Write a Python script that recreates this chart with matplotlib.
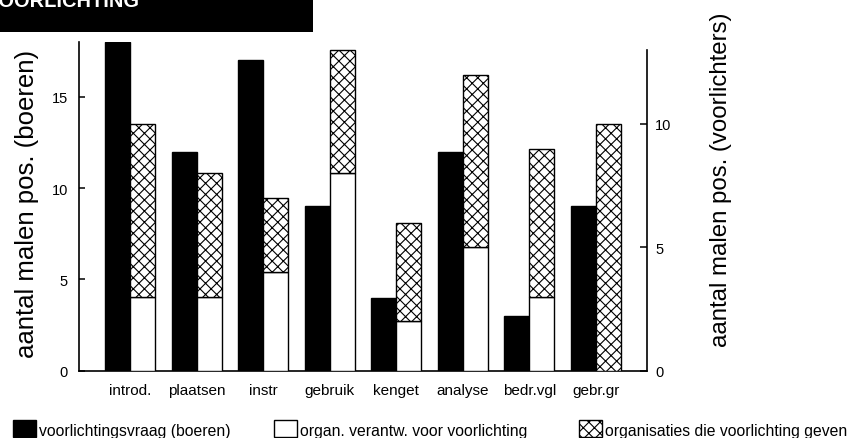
import numpy as np
import matplotlib
matplotlib.use("Agg")
import matplotlib.pyplot as plt
from matplotlib.patches import Rectangle

plt.rcParams['font.family'] = ['Liberation Sans', 'DejaVu Sans']
plt.rcParams['hatch.color'] = 'black'
plt.rcParams['hatch.linewidth'] = 0.8

# data
categories = ['introd.', 'plaatsen', 'instr', 'gebruik', 'kenget', 'analyse', 'bedr.vgl', 'gebr.gr']
boeren = [18, 12, 17, 9, 4, 12, 3, 9]          # left axis
organ_verantw = [3, 3, 4, 8, 2, 5, 3, 0]       # right axis, lower segment
org_geven = [7, 5, 3, 5, 4, 7, 6, 10]          # right axis, upper (hatched) segment

legend_labels = ['voorlichtingsvraag (boeren)',
                 'organ. verantw. voor voorlichting',
                 'organisaties die voorlichting geven']

W, H = 852, 439
fig = plt.figure(figsize=(W / 100, H / 100), dpi=100)

def fx(px):
    return px / W

def fy(py):
    return 1 - py / H

ax = fig.add_axes([fx(79), fy(371.7), fx(647) - fx(79), fy(43) - fy(371.7)])
ax2 = ax.twinx()

x = np.arange(len(categories))
w = 0.375
ax.bar(x - w / 2, boeren, w, color='black', edgecolor='black', linewidth=1.0)
ax2.bar(x + w / 2, organ_verantw, w, facecolor='white', edgecolor='black', linewidth=1.0)
ax2.bar(x + w / 2, org_geven, w, bottom=organ_verantw, facecolor='white',
        edgecolor='black', linewidth=1.0, hatch='xxx')

ax.set_xlim(-0.77, 7.77)
ax.set_ylim(0, 18)
ax2.set_ylim(0, 13.32)

ax.set_yticks([0, 5, 10, 15])
ax2.set_yticks([0, 5, 10])
ax.set_xticks(x)
ax.set_xticklabels(categories, fontsize=11)

ax.tick_params(axis='y', direction='in', length=4, width=1.1, labelsize=10.5, pad=8)
ax2.tick_params(axis='y', direction='in', length=5, width=1.1, labelsize=10.5, pad=6)
ax.tick_params(axis='x', length=0, pad=9)

for a in (ax, ax2):
    a.spines['top'].set_visible(False)
    for s in a.spines.values():
        s.set_linewidth(1.2)
ax.spines['right'].set_visible(False)
ax2.spines['left'].set_visible(False)
ax2.spines['bottom'].set_visible(False)
ax2.spines['right'].set_bounds(0, 13)

fig.text(fx(27), fy(204), 'aantal malen pos. (boeren)', rotation=90,
         ha='center', va='center', fontsize=18.5)
fig.text(fx(721), fy(180), 'aantal malen pos. (voorlichters)', rotation=90,
         ha='center', va='center', fontsize=17.3)

# black title strip at top, text runs off the top edge as in the scan
fig.patches.append(Rectangle((0, fy(33)), fx(313), 33 / H, transform=fig.transFigure,
                             facecolor='black', edgecolor='none'))
fig.text(fx(140), fy(7), 'VOORLICHTING', color='white', fontweight='bold',
         fontsize=14.4, ha='right', va='baseline')

# hand-made legend along the bottom
boxes = [(13, 'black', None), (274, 'white', None), (579, 'white', 'xxx')]
for (bx, fc, hatch), lab in zip(boxes, legend_labels):
    fig.patches.append(Rectangle((fx(bx), fy(438)), 23 / W, 17 / H,
                                 transform=fig.transFigure, facecolor=fc,
                                 edgecolor='black', linewidth=1.0, hatch=hatch))
    fig.text(fx(bx + 26), fy(436), lab, fontsize=11.3, ha='left', va='baseline')

fig.savefig('out.png', dpi=100)
